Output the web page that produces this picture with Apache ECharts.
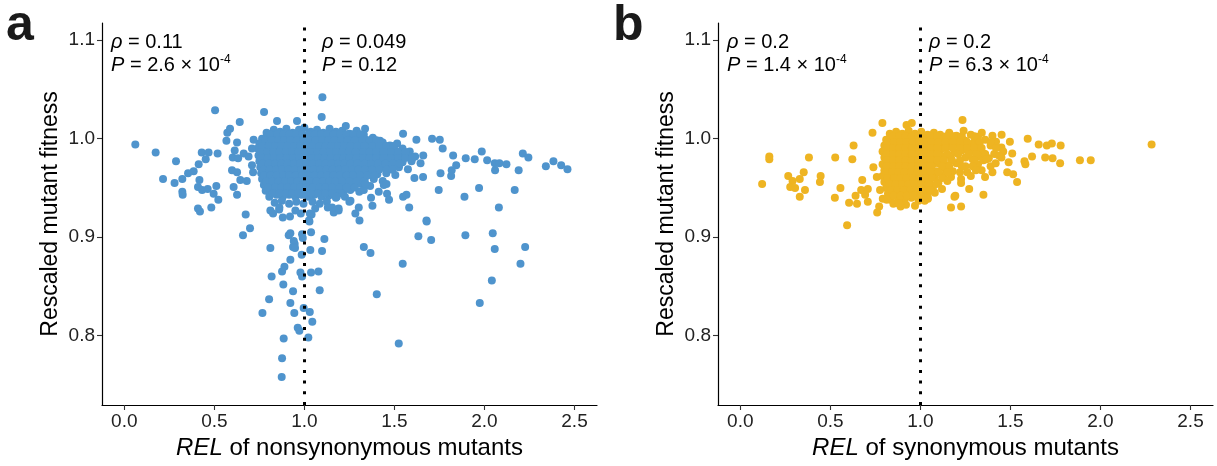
<!DOCTYPE html>
<html>
<head>
<meta charset="utf-8">
<script src="https://cdn.jsdelivr.net/npm/echarts@6.0.0/dist/echarts.min.js"></script>
<style>
  html, body { margin: 0; padding: 0; background: #ffffff; }
  #chart { width: 1217px; height: 466px; }
</style>
</head>
<body>
<div id="chart"></div>
<script>
// Each point: [REL, rescaled mutant fitness]

// Nonsynonymous mutants, dense central cloud
const nonsynCore = [
  [0.79,1.006],[0.83,1.009],[0.865,1.007],[0.9,1.01],[0.935,1.006],[0.97,1.009],[1.0,1.011],[1.035,1.007],[1.07,1.009],[1.105,1.006],[1.14,1.01],[1.175,1.007],[1.21,1.008],[1.25,1.005],[1.29,1.008],[1.33,1.004],
  [0.765,1.0],[0.8,1.003],[0.835,1.001],[0.87,1.003],[0.905,1.0],[0.94,1.003],[0.975,1.001],[1.01,1.003],[1.045,1.0],[1.08,1.002],[1.115,1.0],[1.15,1.003],[1.185,1.001],[1.22,1.002],[1.26,1.0],[1.3,1.002],[1.34,0.999],[1.38,1.001],[1.42,0.998],
  [0.75,0.995],[0.785,0.997],[0.82,0.995],[0.855,0.997],[0.89,0.995],[0.925,0.997],[0.96,0.995],[0.995,0.997],[1.03,0.995],[1.065,0.997],[1.1,0.995],[1.135,0.997],[1.17,0.995],[1.205,0.997],[1.24,0.995],[1.275,0.997],[1.315,0.995],[1.355,0.996],[1.395,0.994],[1.435,0.996],[1.475,0.993],[1.515,0.995],
  [0.74,0.99],[0.775,0.989],[0.81,0.991],[0.845,0.989],[0.88,0.991],[0.915,0.989],[0.95,0.991],[0.985,0.989],[1.02,0.991],[1.055,0.989],[1.09,0.991],[1.125,0.989],[1.16,0.991],[1.195,0.989],[1.23,0.991],[1.265,0.989],[1.305,0.991],[1.345,0.989],[1.385,0.99],[1.425,0.988],[1.465,0.99],[1.505,0.988],[1.545,0.99],[1.585,0.987],
  [0.745,0.983],[0.78,0.985],[0.815,0.983],[0.85,0.985],[0.885,0.983],[0.92,0.985],[0.955,0.983],[0.99,0.985],[1.025,0.983],[1.06,0.985],[1.095,0.983],[1.13,0.985],[1.165,0.983],[1.2,0.985],[1.235,0.983],[1.27,0.985],[1.305,0.983],[1.34,0.985],[1.375,0.983],[1.415,0.984],[1.455,0.982],[1.495,0.984],[1.535,0.982],[1.575,0.984],[1.615,0.982],[1.66,0.983],
  [0.75,0.977],[0.785,0.979],[0.82,0.977],[0.855,0.979],[0.89,0.977],[0.925,0.979],[0.96,0.977],[0.995,0.979],[1.03,0.977],[1.065,0.979],[1.1,0.977],[1.135,0.979],[1.17,0.977],[1.205,0.979],[1.24,0.977],[1.275,0.979],[1.31,0.977],[1.345,0.978],[1.385,0.976],[1.425,0.978],[1.465,0.976],[1.505,0.978],[1.545,0.976],[1.595,0.977],[1.645,0.975],
  [0.755,0.971],[0.79,0.973],[0.825,0.971],[0.86,0.973],[0.895,0.971],[0.93,0.973],[0.965,0.971],[1.0,0.973],[1.035,0.971],[1.07,0.973],[1.105,0.971],[1.14,0.973],[1.175,0.971],[1.21,0.973],[1.245,0.971],[1.28,0.973],[1.315,0.971],[1.355,0.972],[1.395,0.97],[1.435,0.972],[1.475,0.97],[1.525,0.971],[1.575,0.969],
  [0.76,0.965],[0.795,0.967],[0.83,0.965],[0.865,0.967],[0.9,0.965],[0.935,0.967],[0.97,0.965],[1.005,0.967],[1.04,0.965],[1.075,0.967],[1.11,0.965],[1.145,0.967],[1.18,0.965],[1.215,0.967],[1.25,0.965],[1.285,0.966],[1.325,0.964],[1.365,0.966],[1.405,0.964],[1.455,0.965],[1.505,0.963],
  [0.765,0.959],[0.8,0.961],[0.835,0.959],[0.87,0.961],[0.905,0.959],[0.94,0.961],[0.975,0.959],[1.01,0.961],[1.045,0.959],[1.08,0.961],[1.115,0.959],[1.15,0.961],[1.185,0.959],[1.22,0.961],[1.255,0.959],[1.295,0.96],[1.335,0.958],[1.385,0.959],[1.435,0.957],
  [0.775,0.953],[0.81,0.955],[0.845,0.953],[0.88,0.955],[0.915,0.953],[0.95,0.955],[0.985,0.953],[1.02,0.955],[1.055,0.953],[1.09,0.955],[1.125,0.953],[1.16,0.955],[1.195,0.953],[1.235,0.954],[1.275,0.952],[1.315,0.954],[1.365,0.952],
  [0.785,0.947],[0.82,0.949],[0.855,0.947],[0.89,0.949],[0.925,0.947],[0.96,0.949],[0.995,0.947],[1.03,0.949],[1.065,0.947],[1.1,0.949],[1.135,0.947],[1.175,0.948],[1.215,0.946],[1.255,0.948],[1.305,0.946],
  [0.805,0.941],[0.845,0.943],[0.88,0.941],[0.915,0.943],[0.95,0.941],[0.985,0.943],[1.02,0.941],[1.055,0.943],[1.095,0.941],[1.135,0.942],[1.175,0.94],[1.225,0.941],
  [0.835,0.935],[0.875,0.937],[0.915,0.934],[0.955,0.936],[0.995,0.934],[1.045,0.936],[1.085,0.934],[1.125,0.936],
  [0.88,0.92],[0.92,0.921],[1.03,0.924],[1.04,0.923],[1.025,0.917],[0.98,0.924],[0.86,0.928],[0.95,0.927],[1.06,0.929]
];

// Nonsynonymous mutants lying between the rows of the central cloud
const nonsynInner = [
  [0.81,1.0045],[0.848,1.0045],[0.883,1.0045],[0.918,1.0045],[0.953,1.0045],[0.988,1.0045],[1.023,1.0045],[1.058,1.0045],[1.093,1.0045],[1.128,1.0045],[1.163,1.0045],[1.198,1.0045],[1.235,1.0045],[1.27,1.0045],[1.31,1.0045],
  [0.783,0.9985],[0.818,0.9985],[0.853,0.9985],[0.888,0.9985],[0.923,0.9985],[0.958,0.9985],[0.993,0.9985],[1.028,0.9985],[1.063,0.9985],[1.098,0.9985],[1.133,0.9985],[1.168,0.9985],[1.203,0.9985],[1.24,0.9985],[1.28,0.9985],[1.32,0.9985],[1.36,0.9985],[1.4,0.9985],
  [0.767,0.9925],[0.802,0.9925],[0.837,0.9925],[0.872,0.9925],[0.907,0.9925],[0.942,0.9925],[0.977,0.9925],[1.012,0.9925],[1.047,0.9925],[1.082,0.9925],[1.117,0.9925],[1.152,0.9925],[1.187,0.9925],[1.222,0.9925],[1.257,0.9925],[1.295,0.9925],[1.335,0.9925],[1.375,0.9925],[1.415,0.9925],[1.455,0.9925],[1.495,0.9925],
  [0.757,0.9865],[0.792,0.9865],[0.827,0.9865],[0.862,0.9865],[0.897,0.9865],[0.932,0.9865],[0.967,0.9865],[1.002,0.9865],[1.037,0.9865],[1.072,0.9865],[1.107,0.9865],[1.142,0.9865],[1.177,0.9865],[1.212,0.9865],[1.247,0.9865],[1.285,0.9865],[1.325,0.9865],[1.36,0.9865],[1.4,0.9865],[1.44,0.9865],[1.48,0.9865],[1.52,0.9865],[1.56,0.9865],
  [0.762,0.9805],[0.797,0.9805],[0.832,0.9805],[0.867,0.9805],[0.902,0.9805],[0.937,0.9805],[0.972,0.9805],[1.007,0.9805],[1.042,0.9805],[1.077,0.9805],[1.112,0.9805],[1.147,0.9805],[1.182,0.9805],[1.217,0.9805],[1.252,0.9805],[1.29,0.9805],[1.325,0.9805],[1.36,0.9805],[1.4,0.9805],[1.44,0.9805],[1.48,0.9805],[1.52,0.9805],[1.56,0.9805],[1.6,0.9805],
  [0.767,0.9745],[0.802,0.9745],[0.837,0.9745],[0.872,0.9745],[0.907,0.9745],[0.942,0.9745],[0.977,0.9745],[1.012,0.9745],[1.047,0.9745],[1.082,0.9745],[1.117,0.9745],[1.152,0.9745],[1.187,0.9745],[1.222,0.9745],[1.257,0.9745],[1.295,0.9745],[1.335,0.9745],[1.37,0.9745],[1.41,0.9745],[1.45,0.9745],[1.49,0.9745],[1.53,0.9745],
  [0.772,0.9685],[0.807,0.9685],[0.842,0.9685],[0.877,0.9685],[0.912,0.9685],[0.947,0.9685],[0.982,0.9685],[1.017,0.9685],[1.052,0.9685],[1.087,0.9685],[1.122,0.9685],[1.157,0.9685],[1.192,0.9685],[1.227,0.9685],[1.265,0.9685],[1.3,0.9685],[1.335,0.9685],[1.375,0.9685],[1.415,0.9685],[1.455,0.9685],[1.49,0.9685],
  [0.777,0.9625],[0.812,0.9625],[0.847,0.9625],[0.882,0.9625],[0.917,0.9625],[0.952,0.9625],[0.987,0.9625],[1.022,0.9625],[1.057,0.9625],[1.092,0.9625],[1.127,0.9625],[1.162,0.9625],[1.197,0.9625],[1.235,0.9625],[1.27,0.9625],[1.31,0.9625],[1.35,0.9625],[1.39,0.9625],
  [0.787,0.9565],[0.822,0.9565],[0.857,0.9565],[0.892,0.9565],[0.927,0.9565],[0.962,0.9565],[0.997,0.9565],[1.032,0.9565],[1.067,0.9565],[1.102,0.9565],[1.137,0.9565],[1.172,0.9565],[1.21,0.9565],[1.25,0.9565],[1.29,0.9565],[1.33,0.9565],
  [0.8,0.9505],[0.837,0.9505],[0.872,0.9505],[0.907,0.9505],[0.942,0.9505],[0.977,0.9505],[1.012,0.9505],[1.047,0.9505],[1.082,0.9505],[1.117,0.9505],[1.155,0.9505],[1.195,0.9505],[1.235,0.9505],[1.28,0.9505],
  [0.825,0.9445],[0.862,0.9445],[0.897,0.9445],[0.932,0.9445],[0.967,0.9445],[1.002,0.9445],[1.037,0.9445],[1.075,0.9445],[1.115,0.9445],[1.155,0.9445],[1.2,0.9445]
];

// Nonsynonymous mutants, scattered points around the cloud
const nonsynSpread = [
  [0.061,0.994],[0.174,0.986],[0.215,0.959],[0.279,0.955],[0.287,0.977],[0.322,0.959],[0.322,0.946],[0.324,0.943],
  [0.354,0.965],[0.385,0.967],[0.409,0.951],[0.409,0.929],[0.413,0.974],[0.417,0.958],[0.42,0.926],[0.43,0.986],
  [0.432,0.948],[0.452,0.979],[0.463,0.949],[0.468,0.986],[0.483,0.93],[0.496,0.944],[0.504,1.029],[0.511,0.952],
  [0.518,0.985],[0.522,0.938],[0.567,0.998],[0.572,1.006],[0.587,1.01],[0.598,0.968],[0.602,0.981],[0.607,0.951],
  [0.613,0.988],[0.626,0.996],[0.626,0.966],[0.626,0.943],[0.632,0.98],[0.641,1.017],[0.644,0.958],[0.663,0.985],
  [0.674,0.923],[0.68,0.957],[0.69,0.982],[0.709,0.99],[0.709,0.973],[0.715,0.966],[0.718,0.999],[0.776,1.027],
  [0.848,1.018],[0.959,1.018],[1.096,1.022],[1.1,1.042],[1.23,1.013],
  [0.659,0.902],[0.698,0.909],[0.811,0.889],[0.818,0.86],[0.804,0.837],[0.767,0.823],[0.883,0.852],[0.876,0.865],
  [0.889,0.87],[0.922,0.877],[0.913,0.902],[0.922,0.904],[0.941,0.896],[0.946,0.893],[0.937,0.89],[0.948,0.889],
  [0.987,0.903],[0.991,0.899],[1.037,0.905],[0.985,0.882],[1.033,0.887],[1.098,0.886],[1.111,0.898],[1.028,0.916],
  [0.937,0.845],[0.922,0.833],[0.944,0.823],[0.978,0.864],[0.987,0.86],[1.037,0.864],[1.078,0.865],[1.085,0.846],
  [0.996,0.828],[1.03,0.824],[1.044,0.814],[0.963,0.808],[0.972,0.805],[1.022,0.798],[0.885,0.797],[0.876,0.777],
  [0.874,0.758],[1.33,0.89],[1.367,0.884],[1.402,0.842],
  [0.811,0.927],[0.826,0.924],[0.861,0.93],[1.19,0.927],[1.163,0.925],[1.13,0.93],[1.25,0.936],
  [1.337,1.01],[1.548,1.005],[1.709,1.0],[1.752,0.999],[1.622,0.999],[1.768,0.99],[1.826,0.983],[1.896,0.98],
  [1.946,0.979],[1.985,0.987],[2.015,0.978],[2.057,0.975],[2.083,0.975],[2.122,0.974],[2.059,0.968],[2.19,0.968],
  [2.213,0.985],[2.244,0.981],[2.341,0.972],[2.383,0.977],[2.426,0.973],[2.461,0.969],[1.843,0.973],[1.818,0.968],
  [1.815,0.962],[1.756,0.965],[1.746,0.948],[1.97,0.95],[2.168,0.948],[1.889,0.941],[2.08,0.93],[1.582,0.93],
  [1.678,0.917],[1.306,0.917],[1.611,0.96],[1.659,0.961],[1.548,0.941],[1.567,0.943],[1.459,0.944],[1.47,0.938],
  [1.413,0.946],[1.441,0.953],[1.456,0.954],[1.37,0.94],[1.378,0.932],[1.302,0.93],[1.283,0.924],[1.33,0.948],
  [1.339,0.954],[1.256,0.937],[1.18,0.941],[1.19,0.929],[1.154,0.93],
  [1.679,0.916],[1.633,0.901],[1.704,0.897],[1.894,0.902],[2.046,0.904],[2.057,0.888],[2.226,0.89],[2.2,0.873],
  [2.041,0.856],[1.974,0.833],[1.546,0.873],[1.524,0.792]
];

// Synonymous mutants, dense central cloud
const synCore = [
  [0.83,1.005],[0.865,1.007],[0.9,1.005],[0.935,1.008],[0.97,1.005],[1.005,1.007],[1.04,1.004],[1.075,1.006],[1.11,1.004],[1.16,1.006],[1.2,1.003],[1.28,1.004],[1.32,1.002],[1.4,1.003],
  [0.81,0.999],[0.845,1.001],[0.88,0.999],[0.915,1.001],[0.95,0.999],[0.985,1.001],[1.02,0.999],[1.055,1.001],[1.09,0.999],[1.13,1.0],[1.17,0.998],[1.21,1.0],[1.25,0.998],[1.3,0.997],[1.36,0.999],[1.42,0.997],
  [0.8,0.993],[0.835,0.995],[0.87,0.993],[0.905,0.995],[0.94,0.993],[0.975,0.995],[1.01,0.993],[1.045,0.995],[1.08,0.993],[1.12,0.994],[1.16,0.992],[1.2,0.994],[1.24,0.992],[1.28,0.994],[1.33,0.991],[1.39,0.993],[1.45,0.991],
  [0.79,0.987],[0.825,0.989],[0.86,0.987],[0.895,0.989],[0.93,0.987],[0.965,0.989],[1.0,0.987],[1.035,0.989],[1.07,0.987],[1.11,0.988],[1.19,0.986],[1.23,0.988],[1.27,0.986],[1.31,0.988],[1.35,0.985],[1.46,0.987],[1.51,0.985],
  [0.8,0.981],[0.835,0.983],[0.87,0.981],[0.905,0.983],[0.94,0.981],[0.975,0.983],[1.01,0.981],[1.045,0.983],[1.08,0.981],[1.13,0.982],[1.17,0.98],[1.25,0.981],[1.29,0.979],[1.33,0.982],[1.38,0.98],[1.45,0.981],
  [0.79,0.974],[0.825,0.976],[0.86,0.974],[0.895,0.976],[0.93,0.974],[0.965,0.976],[1.0,0.974],[1.035,0.976],[1.07,0.974],[1.1,0.975],[1.15,0.973],[1.2,0.975],[1.25,0.972],[1.32,0.974],[1.39,0.972],
  [0.8,0.968],[0.835,0.97],[0.87,0.968],[0.905,0.97],[0.94,0.968],[0.975,0.97],[1.01,0.968],[1.045,0.97],[1.09,0.967],[1.14,0.969],[1.18,0.967],[1.26,0.966],[1.34,0.968],
  [0.79,0.962],[0.825,0.964],[0.86,0.962],[0.895,0.964],[0.93,0.962],[0.965,0.964],[1.0,0.962],[1.035,0.964],[1.08,0.961],[1.13,0.963],[1.17,0.961],[1.28,0.962],
  [0.8,0.956],[0.835,0.958],[0.87,0.956],[0.905,0.958],[0.94,0.956],[0.975,0.958],[1.01,0.956],[1.05,0.957],[1.1,0.955],[1.15,0.957],
  [0.81,0.95],[0.845,0.952],[0.88,0.95],[0.915,0.952],[0.95,0.95],[0.985,0.952],[1.025,0.95],[1.07,0.951],[1.12,0.949],
  [0.82,0.944],[0.855,0.946],[0.89,0.944],[0.925,0.946],[0.96,0.944],[1.0,0.946],[1.04,0.943],[1.08,0.945],
  [0.835,0.938],[0.875,0.94],[0.91,0.938],[0.95,0.94],[0.99,0.937],[1.04,0.94],
  [0.85,0.934],[0.92,0.933],[0.97,0.932],[0.89,0.931]
];

// Synonymous mutants lying between the rows of the central cloud
const synInner = [
  [0.848,1.0025],[0.883,1.0025],[0.918,1.0025],[0.953,1.0025],[0.988,1.0025],[1.023,1.0025],[1.058,1.0025],[1.093,1.0025],[1.145,1.0025],[1.185,1.0025],[1.23,1.0025],[1.3,1.0025],
  [0.818,0.9965],[0.853,0.9965],[0.888,0.9965],[0.923,0.9965],[0.958,0.9965],[0.993,0.9965],[1.028,0.9965],[1.063,0.9965],[1.1,0.9965],[1.14,0.9965],[1.18,0.9965],[1.22,0.9965],[1.26,0.9965],[1.33,0.9965],[1.39,0.9965],
  [0.813,0.9905],[0.848,0.9905],[0.883,0.9905],[0.918,0.9905],[0.953,0.9905],[0.988,0.9905],[1.023,0.9905],[1.058,0.9905],[1.095,0.9905],[1.14,0.9905],[1.18,0.9905],[1.22,0.9905],[1.26,0.9905],[1.3,0.9905],[1.34,0.9905],[1.42,0.9905],
  [0.813,0.9845],[0.848,0.9845],[0.883,0.9845],[0.918,0.9845],[0.953,0.9845],[0.988,0.9845],[1.023,0.9845],[1.058,0.9845],[1.095,0.9845],[1.15,0.9845],[1.21,0.9845],[1.27,0.9845],[1.31,0.9845],[1.36,0.9845],[1.41,0.9845],
  [0.813,0.978],[0.848,0.978],[0.883,0.978],[0.918,0.978],[0.953,0.978],[0.988,0.978],[1.023,0.978],[1.058,0.978],[1.095,0.978],[1.13,0.978],[1.175,0.978],[1.22,0.978],[1.3,0.978],[1.35,0.978],
  [0.813,0.972],[0.848,0.972],[0.883,0.972],[0.918,0.972],[0.953,0.972],[0.988,0.972],[1.023,0.972],[1.058,0.972],[1.12,0.972],[1.16,0.972],[1.23,0.972],[1.29,0.972],
  [0.808,0.966],[0.843,0.966],[0.878,0.966],[0.913,0.966],[0.948,0.966],[0.983,0.966],[1.018,0.966],[1.055,0.966],[1.1,0.966],[1.15,0.966],[1.22,0.966],
  [0.818,0.96],[0.853,0.96],[0.888,0.96],[0.923,0.96],[0.958,0.96],[0.993,0.96],[1.028,0.96],[1.065,0.96],[1.12,0.96],
  [0.828,0.954],[0.863,0.954],[0.898,0.954],[0.933,0.954],[0.968,0.954],[1.005,0.954],[1.045,0.954],[1.09,0.954],
  [0.838,0.948],[0.873,0.948],[0.908,0.948],[0.943,0.948],[0.978,0.948],[1.015,0.948],[1.055,0.948],
  [0.85,0.942],[0.89,0.942],[0.925,0.942],[0.96,0.942],[1.0,0.942]
];

// Synonymous mutants, scattered points around the cloud
const synSpread = [
  [0.121,0.954],[0.161,0.982],[0.161,0.979],[0.266,0.962],[0.29,0.957],[0.33,0.959],[0.352,0.966],[0.277,0.951],
  [0.304,0.95],[0.33,0.941],[0.359,0.948],[0.381,0.981],[0.446,0.962],[0.442,0.956],[0.527,0.981],[0.525,0.94],
  [0.556,0.95],[0.593,0.912],[0.604,0.935],[0.648,0.934],[0.64,0.942],[0.622,0.979],[0.629,0.993],[0.677,0.958],
  [0.671,0.948],[0.708,0.949],[0.708,0.936],[0.693,0.943],[0.734,1.006],[0.789,1.016],[0.739,0.971],[0.758,0.961],
  [0.776,0.948],[0.791,0.939],[0.813,0.938],[0.771,0.931],[0.76,0.925],[0.881,0.934],[0.923,1.014],[0.952,1.016],
  [1.17,0.93],[1.234,1.019],[1.24,1.008],[1.341,1.006],[1.451,1.004],[1.596,1.0],[1.497,0.997],[1.657,0.994],
  [1.702,0.993],[1.73,0.995],[1.779,0.993],[2.284,0.994],[1.886,0.978],[1.946,0.978],[1.776,0.975],[1.734,0.98],
  [1.693,0.981],[1.62,0.982],[1.583,0.974],[1.578,0.977],[1.537,0.956],[1.515,0.964],[1.482,0.966],[1.35,0.943],
  [1.271,0.949],[1.226,0.931],[1.194,0.942],[1.359,0.961],[1.4,0.966],[1.308,0.968],[1.226,0.959],[1.226,0.955],
  [1.367,0.979],[1.418,0.975],[1.436,0.983],[1.49,0.976],[1.189,0.941],[1.042,0.939],[1.024,0.937]
];

const relTicks = [0, 0.5, 1, 1.5, 2, 2.5];
const fitnessTicks = [0.8, 0.9, 1.0, 1.1];
const neutralREL = 1;

const panels = [
  { tag: 'a', xName: 'nonsynonymous mutants', points: nonsynCore.concat(nonsynInner, nonsynSpread), color: '#4F94CD',
    below: { rho: '0.11', p: '2.6 × 10', exp: '-4' }, above: { rho: '0.049', p: '0.12', exp: '' } },
  { tag: 'b', xName: 'synonymous mutants', points: synCore.concat(synInner, synSpread), color: '#EEB422',
    below: { rho: '0.2', p: '1.4 × 10', exp: '-4' }, above: { rho: '0.2', p: '6.3 × 10', exp: '-4' } }
];

const FONT = 'Liberation Sans, Arial, Helvetica, sans-serif';
const grids = [
  { left: 102, top: 23, width: 495, height: 382 },
  { left: 718, top: 23, width: 495, height: 382 }
];

function statText(s) {
  const pLine = '{i|P} = ' + s.p + (s.exp ? '{sup|' + s.exp + '}' : '');
  return '{i|ρ} = ' + s.rho + '\n' + pLine;
}
const richStyles = {
  i: { fontStyle: 'italic', fontSize: 20, fontFamily: FONT, lineHeight: 23, fill: '#000' },
  sup: { fontSize: 12, fontFamily: FONT, lineHeight: 14, verticalAlign: 'top', fill: '#000' }
};

const xAxes = panels.map((p, i) => ({
  gridIndex: i, type: 'value', min: -0.124, max: 2.625,
  name: '{i|REL} of ' + p.xName, nameLocation: 'middle', nameGap: 28,
  nameTextStyle: { fontSize: 24, fontFamily: FONT, color: '#000',
    rich: { i: { fontStyle: 'italic', fontSize: 24, fontFamily: FONT, color: '#000' } } },
  axisLine: { onZero: false, lineStyle: { color: '#000', width: 1.2 } },
  axisTick: { customValues: relTicks, length: 5, lineStyle: { color: '#333', width: 1.1 } },
  axisLabel: { customValues: relTicks, formatter: v => v.toFixed(1), margin: 7,
    fontSize: 19, fontFamily: FONT, color: '#222' },
  splitLine: { show: false }
}));

const yAxes = panels.map((p, i) => ({
  gridIndex: i, type: 'value', min: 0.7295, max: 1.1175,
  name: 'Rescaled mutant fitness', nameLocation: 'middle', nameGap: 40,
  nameTextStyle: { fontSize: 23, fontFamily: FONT, color: '#000' },
  axisLine: { onZero: false, lineStyle: { color: '#000', width: 1.2 } },
  axisTick: { customValues: fitnessTicks, length: 5, lineStyle: { color: '#333', width: 1.1 } },
  axisLabel: { customValues: fitnessTicks, formatter: v => v.toFixed(1), margin: 7,
    fontSize: 19, fontFamily: FONT, color: '#222' },
  splitLine: { show: false }
}));

const series = [];
panels.forEach((p, i) => {
  series.push({
    type: 'scatter', xAxisIndex: i, yAxisIndex: i, data: p.points,
    symbol: 'circle', symbolSize: 8, silent: true, animation: false,
    itemStyle: { color: p.color, opacity: 1 }
  });
  series.push({
    type: 'scatter', xAxisIndex: i, yAxisIndex: i, data: [], z: 5, animation: false,
    markLine: {
      silent: true, symbol: 'none', animation: false, label: { show: false },
      lineStyle: { color: '#000', width: 3, type: [3, 7.7], cap: 'butt' },
      data: [{ xAxis: neutralREL }]
    }
  });
});

const labelX = [111, 727];
const aboveX = [322, 929];
const tagX = [6, 613];
const graphic = [];
panels.forEach((p, i) => {
  graphic.push({
    type: 'text', left: tagX[i], top: 1,
    style: { text: p.tag, fontSize: 50, fontWeight: 'bold', fontFamily: FONT, fill: '#1a1a1a' }
  });
  graphic.push({
    type: 'text', left: labelX[i], top: 31,
    style: { text: statText(p.below), fontSize: 20, fontFamily: FONT, lineHeight: 23, fill: '#000', rich: richStyles }
  });
  graphic.push({
    type: 'text', left: aboveX[i], top: 31,
    style: { text: statText(p.above), fontSize: 20, fontFamily: FONT, lineHeight: 23, fill: '#000', rich: richStyles }
  });
});

const chart = echarts.init(document.getElementById('chart'), null, { renderer: 'canvas' });
chart.setOption({
  backgroundColor: '#ffffff',
  animation: false,
  grid: grids,
  xAxis: xAxes,
  yAxis: yAxes,
  series: series,
  graphic: graphic
});
</script>
</body>
</html>
